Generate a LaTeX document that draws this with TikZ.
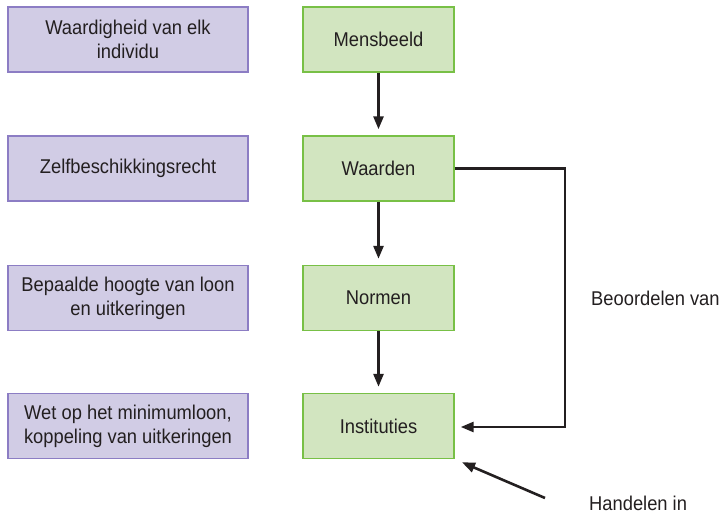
\documentclass[tikz,border=0pt]{standalone}
\usepackage{fontspec}
\setmainfont[FakeStretch=0.92]{Liberation Sans}
\usetikzlibrary{arrows.meta}
\definecolor{pfill}{HTML}{D1CCE5}
\definecolor{pline}{HTML}{8C7DC4}
\definecolor{gfill}{HTML}{D2E5C0}
\definecolor{gline}{HTML}{78C046}
\definecolor{ink}{HTML}{231F20}
\begin{document}
\begin{tikzpicture}[x=1bp,y=-1bp,
  txt/.style={text=ink,font=\fontsize{20}{24}\selectfont},
  lbox/.style={txt,draw=pline,fill=pfill,line width=1.4bp,minimum width=240bp,minimum height=65bp,inner sep=0pt,align=center},
  gbox/.style={txt,draw=gline,fill=gfill,line width=1.4bp,minimum width=151bp,minimum height=65bp,inner sep=0pt,align=center},
  lbl/.style={txt,inner sep=0pt,anchor=west},
  conn/.style={draw=ink,line width=2.6bp,-{Triangle[length=13bp,width=10bp]}}]
\useasboundingbox (0,0) rectangle (720,515);
\node[lbox] (l1) at (128,39.5) {Waardigheid van elk\\individu};
\node[lbox] (l2) at (128,168.5) {Zelfbeschikkingsrecht};
\node[lbox] (l3) at (128,298) {Bepaalde hoogte van loon\\en uitkeringen};
\node[lbox] (l4) at (128,426) {Wet op het minimumloon,\\koppeling van uitkeringen};
\node[gbox] (m) at (378.5,39.5) {Mensbeeld};
\node[gbox] (w) at (378.5,168.5) {Waarden};
\node[gbox] (n) at (378.5,298) {Normen};
\node[gbox] (i) at (378.5,426) {Instituties};
\node[lbl] (b) at (591,298) {Beoordelen van};
\node[lbl] (h) at (589,503) {Handelen in};
\coordinate (c1) at (565,168.5);
\coordinate (c2) at (565,427);
\coordinate (hs) at (545,498);
\draw[conn,shorten >=6bp] (m) -- (w);
\draw[conn,shorten >=6bp] (w) -- (n);
\draw[conn,shorten >=6bp] (n) -- (i);
\draw[conn,shorten >=6bp] (w.east) -- (c1) -- (c2) -- (c2 -| i.east);
\draw[conn,shorten >=8bp] (hs) -- (i.south east);
\end{tikzpicture}
\end{document}
